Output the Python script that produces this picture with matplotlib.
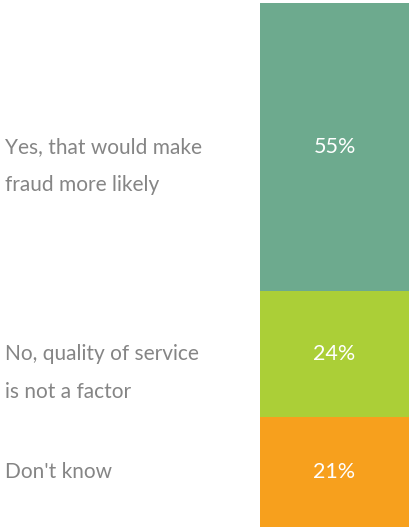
import numpy as np
import matplotlib
matplotlib.use('Agg')
import matplotlib.pyplot as plt

labels = ["Yes, that would make\nfraud more likely",
          "No, quality of service\nis not a factor",
          "Don't know"]
values = [55, 24, 21]
colors = ['#6DAA8E', '#ABCF37', '#F7A01D']
TXT = '#858585'

plt.rcParams['font.family'] = ['Lato', 'DejaVu Sans']

fig = plt.figure(figsize=(4.09, 5.27), dpi=100)
ax = fig.add_axes([260/409, 0, 149/409, 524/527])
bottoms = np.concatenate([[0], np.cumsum(values)[:-1]])
ax.bar([0]*len(values), values, bottom=bottoms, width=1, color=colors, linewidth=0)
ax.set_xlim(-0.5, 0.5); ax.set_ylim(100, 0)
ax.axis('off')

for lab, v, b in zip(labels, values, bottoms):
    mid = b + v/2
    ax.text(0, mid, f"{v}%", color='white', fontsize=15.5, ha='center', va='center')
    ax.annotate(lab, xy=(5/409, mid), xycoords=('figure fraction', 'data'),
                xytext=(0, 7), textcoords='offset points',
                ha='left', va='top', fontsize=15, color=TXT, linespacing=2.1)

fig.savefig('out.png', dpi=100)
